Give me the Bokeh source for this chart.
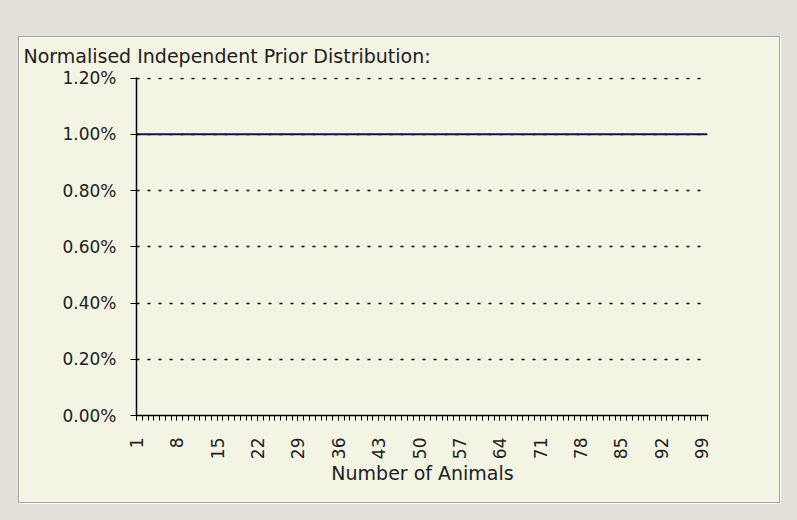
from bokeh.plotting import figure
from bokeh.models import FixedTicker, NumeralTickFormatter, Range1d, Title
from bokeh.embed import file_html
from bokeh.resources import INLINE
import math

# ---- data ----
animals = list(range(1, 101))                 # Number of Animals
prior = [0.01] * len(animals)                 # normalised uniform prior (1.00%)
x_tick_labels = list(range(1, 100, 7))        # 1, 8, 15, ... 99
y_ticks = [0.0, 0.002, 0.004, 0.006, 0.008, 0.010, 0.012]

title_text = "Normalised Independent Prior Distribution:"
x_label = "Number of Animals"

OUTER = "#e2e0d8"
CREAM = "#f4f4e5"
EDGE = "#a3a39b"
FONT = "DejaVu Sans"
W, H = 797, 520

p = figure(width=W, height=H, output_backend="svg", toolbar_location=None,
           x_range=Range1d(1, 100.2), y_range=Range1d(0, 0.01202),
           min_border_left=136, min_border_right=89,
           min_border_top=77, min_border_bottom=105)
p.background_fill_color = CREAM
p.border_fill_alpha = 0
p.outline_line_color = None

# window background with an etched group box, painted behind the transparent canvas
def layer(color, x, y, w, h):
    return f"linear-gradient({color},{color}) {x}px {y}px / {w}px {h}px no-repeat"

p.styles = {"background": ", ".join([
    layer(CREAM, 20, 38, 759, 464),
    layer("#ffffff", 19, 37, 760, 465),
    layer(EDGE, 18, 36, 762, 467),
    layer("#ffffff", 18, 36, 763, 468),
    OUTER,
])}

p.line(animals, prior, line_color="#14144a", line_width=2)

# axes
p.xaxis.ticker = FixedTicker(ticks=x_tick_labels, minor_ticks=animals)
p.xaxis.major_label_orientation = math.pi / 2
p.xaxis.axis_label = x_label
p.xaxis.axis_label_text_font = FONT
p.xaxis.axis_label_text_font_size = "19px"
p.xaxis.axis_label_text_font_style = "normal"
p.xaxis.axis_label_text_color = "#202020"
p.xaxis.axis_label_standoff = 0
p.xaxis.major_tick_in = 0
p.xaxis.major_tick_out = 5
p.xaxis.minor_tick_in = 0
p.xaxis.minor_tick_out = 5
p.xaxis.major_label_standoff = 17

p.yaxis.ticker = FixedTicker(ticks=y_ticks)
p.yaxis.formatter = NumeralTickFormatter(format="0.00%")
p.yaxis.major_tick_in = 0
p.yaxis.major_tick_out = 6
p.yaxis.minor_tick_line_color = None
p.yaxis.major_label_standoff = 14

for ax in (p.xaxis[0], p.yaxis[0]):
    ax.axis_line_color = "black"
    ax.axis_line_width = 1.5
    ax.major_tick_line_color = "black"
    ax.major_label_text_font = FONT
    ax.major_label_text_font_size = "17px"
    ax.major_label_text_color = "#202020"
p.xaxis.minor_tick_line_color = "black"

p.xgrid.grid_line_color = None
p.ygrid.grid_line_color = "black"
p.ygrid.grid_line_dash = "3 8"
p.ygrid.grid_line_width = 1.5

# the figure's own (innermost) title panel is an invisible spacer next to the frame
p.title.text = " "
p.title.text_font = FONT
p.title.text_font_size = "19px"
p.title.standoff = 4
p.title.text_alpha = 0

# the visible title is stacked outside the spacer, at the top of the window
p.add_layout(Title(text=title_text, align="left", offset=-113, standoff=22,
                   text_font=FONT, text_font_size="19px", text_font_style="normal",
                   text_color="#202020"), "above")

open("out.html", "w").write(file_html(p, INLINE))
